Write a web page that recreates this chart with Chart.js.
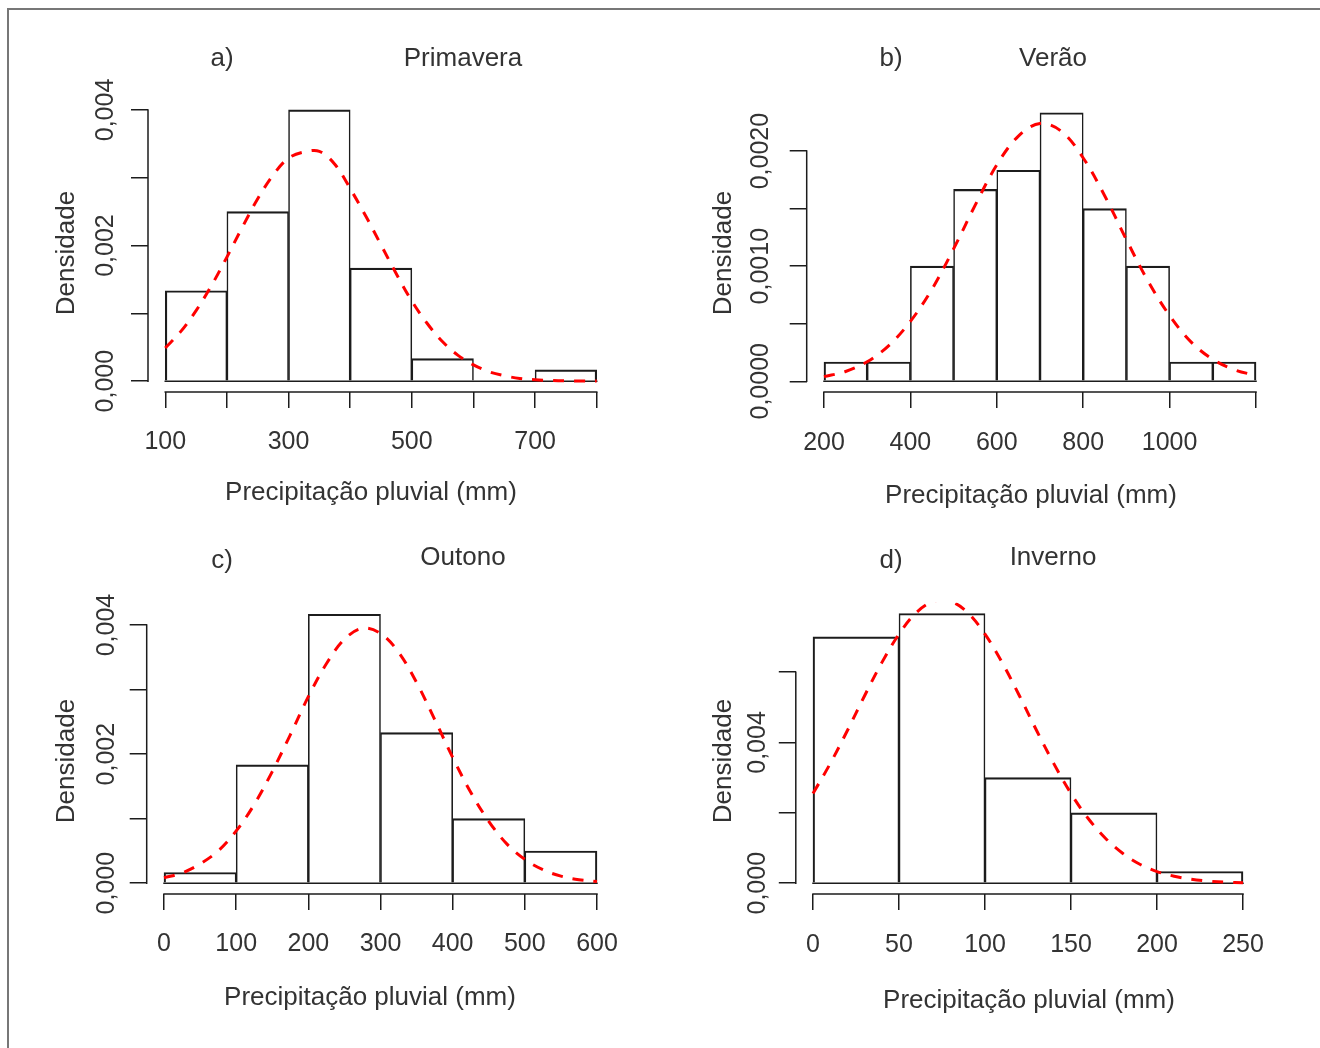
<!DOCTYPE html>
<html>
<head>
<meta charset="utf-8">
<title>Precipitação pluvial sazonal</title>
<script src="https://cdn.jsdelivr.net/npm/chart.js@4.4.1/dist/chart.umd.min.js"></script>
<style>
  html, body { margin: 0; padding: 0; background: #ffffff; }
  #page { position: relative; width: 1320px; height: 1048px; overflow: hidden; background: #ffffff; }
  #frame { position: absolute; left: 7px; top: 8px; width: 1400px; height: 1100px;
           border-top: 2px solid #777777; border-left: 2px solid #777777; }
  canvas { position: absolute; }
</style>
</head>
<body>
<div id="page">
  <div id="frame"></div>
  <canvas id="cA" width="660" height="524" style="left:0px;top:0px"></canvas>
  <canvas id="cB" width="660" height="524" style="left:660px;top:0px"></canvas>
  <canvas id="cC" width="660" height="524" style="left:0px;top:524px"></canvas>
  <canvas id="cD" width="660" height="524" style="left:660px;top:524px"></canvas>
</div>
<script>
// ---- a) Primavera ----
const springBreaks  = [100, 200, 300, 400, 500, 600, 700, 800];
const springDensity = [0.001333, 0.0025, 0.004, 0.001667, 0.000333, 0, 0.000167];
const springCurveX  = [100, 125, 150, 175, 200, 225, 250, 275, 300, 325, 350, 375, 400, 425, 450,
                       475, 500, 525, 550, 575, 600, 625, 650, 675, 700, 725, 750, 775, 800];
const springCurveY  = [0.00049, 0.00073, 0.00104, 0.00141, 0.00183, 0.00227, 0.00269, 0.00304, 0.00329,
                       0.00338, 0.00339, 0.00320, 0.00284, 0.00244, 0.00201, 0.00158, 0.00118, 0.00085,
                       0.00058, 0.00038, 0.00024, 0.00014, 0.00008, 0.00004, 0.00002, 0.00001, 0.000005,
                       0.000002, 0.000001];
const springXTicks  = [100, 200, 300, 400, 500, 600, 700, 800];
const springXLabels = ['100', '', '300', '', '500', '', '700', ''];
const springYTicks  = [0, 0.001, 0.002, 0.003, 0.004];
const springYLabels = ['0,000', '', '0,002', '', '0,004'];

// ---- b) Verão ----
const summerBreaks  = [200, 300, 400, 500, 600, 700, 800, 900, 1000, 1100, 1200];
const summerDensity = [0.000167, 0.000167, 0.001, 0.001667, 0.001833, 0.002333, 0.0015, 0.001, 0.000167, 0.000167];
const summerCurveX  = [200, 250, 300, 350, 400, 450, 500, 550, 600, 650, 700, 750, 800, 850, 900,
                       950, 1000, 1050, 1100, 1150, 1200];
const summerCurveY  = [0.00004, 0.000085, 0.00017, 0.00031, 0.00052, 0.00080, 0.00115, 0.00153, 0.00188,
                       0.00213, 0.00224, 0.00217, 0.00194, 0.00161, 0.00123, 0.00087, 0.00057, 0.00034,
                       0.00019, 0.00010, 0.00005];
const summerXTicks  = [200, 400, 600, 800, 1000, 1200];
const summerXLabels = ['200', '400', '600', '800', '1000', ''];
const summerYTicks  = [0, 0.0005, 0.001, 0.0015, 0.002];
const summerYLabels = ['0,0000', '', '0,0010', '', '0,0020'];

// ---- c) Outono ----
const autumnBreaks  = [0, 100, 200, 300, 400, 500, 600];
const autumnDensity = [0.000167, 0.001833, 0.004167, 0.002333, 0.001, 0.0005];
const autumnCurveX  = [0, 25, 50, 75, 100, 125, 150, 175, 200, 225, 250, 275, 300, 325, 350, 375,
                       400, 425, 450, 475, 500, 525, 550, 575, 600];
const autumnCurveY  = [0.000085, 0.00016, 0.00030, 0.00050, 0.00081, 0.00122, 0.00173, 0.00230, 0.00289,
                       0.00340, 0.00378, 0.00395, 0.00387, 0.00358, 0.00311, 0.00254, 0.00195, 0.00141,
                       0.00096, 0.00061, 0.00037, 0.00021, 0.00011, 0.000055, 0.000026];
const autumnXTicks  = [0, 100, 200, 300, 400, 500, 600];
const autumnXLabels = ['0', '100', '200', '300', '400', '500', '600'];
const autumnYTicks  = [0, 0.001, 0.002, 0.003, 0.004];
const autumnYLabels = ['0,000', '', '0,002', '', '0,004'];

// ---- d) Inverno ----
const winterBreaks  = [0, 50, 100, 150, 200, 250];
const winterDensity = [0.007, 0.007667, 0.003, 0.002, 0.000333];
const winterCurveX  = [0, 10, 20, 30, 40, 50, 60, 70, 80, 90, 100, 110, 120, 130, 140, 150,
                       160, 170, 180, 190, 200, 210, 220, 230, 240, 250];
const winterCurveY  = [0.00255, 0.00340, 0.00434, 0.00533, 0.00627, 0.00708, 0.00769, 0.00801, 0.00801,
                       0.00769, 0.00708, 0.00627, 0.00533, 0.00434, 0.00340, 0.00255, 0.00184, 0.00128,
                       0.00085, 0.00054, 0.00033, 0.00020, 0.00011, 0.00006, 0.00003, 0.000015];
const winterXTicks  = [0, 50, 100, 150, 200, 250];
const winterXLabels = ['0', '50', '100', '150', '200', '250'];
const winterYTicks  = [0, 0.002, 0.004, 0.006];
const winterYLabels = ['0,000', '', '0,004', ''];

// ---- shared look ----
const FONT = '"Liberation Sans", Arial, Helvetica, sans-serif';
const TEXT = '#333333';
const INK = '#1c1c1c';
const CURVE = '#ff0000';
const AXIS_TITLE_X = 'Precipitação pluvial (mm)';
const AXIS_TITLE_Y = 'Densidade';
const CANVAS_W = 660, CANVAS_H = 524, Y_BOX = 20, X_BOX = 90;

// R-style axis range: data range widened by 4% on each side
function widen(lo, hi) { const pad = 0.04 * (hi - lo); return [lo - pad, hi + pad]; }
function binMids(breaks) { return breaks.slice(0, -1).map((b, i) => (b + breaks[i + 1]) / 2); }

// axis lines spanning first..last tick, histogram baseline, and all text
const rAxes = {
  id: 'rAxes',
  beforeDatasetsDraw(chart, args, o) {
    const { ctx, scales: { x, y } } = chart;
    const xt = x.ticks, yt = y.ticks;
    ctx.save();
    ctx.strokeStyle = INK;
    ctx.lineWidth = 1.5;
    ctx.lineCap = 'square';
    ctx.beginPath();
    ctx.moveTo(x.getPixelForValue(xt[0].value), x.top);
    ctx.lineTo(x.getPixelForValue(xt[xt.length - 1].value), x.top);
    ctx.moveTo(y.right, y.getPixelForValue(yt[0].value));
    ctx.lineTo(y.right, y.getPixelForValue(yt[yt.length - 1].value));
    const y0 = y.getPixelForValue(0);
    ctx.moveTo(x.getPixelForValue(o.breaks[0]), y0);
    ctx.lineTo(x.getPixelForValue(o.breaks[o.breaks.length - 1]), y0);
    ctx.stroke();
    ctx.restore();
  },
  afterDraw(chart, args, o) {
    const { ctx, scales: { y } } = chart;
    ctx.save();
    ctx.fillStyle = TEXT;
    ctx.textAlign = 'center';
    ctx.textBaseline = 'alphabetic';
    // rotated y tick labels
    ctx.font = '25px ' + FONT;
    y.ticks.forEach((t, i) => {
      const lab = o.yLabels[i];
      if (!lab) return;
      ctx.save();
      ctx.translate(o.yLabelX, y.getPixelForValue(t.value));
      ctx.rotate(-Math.PI / 2);
      ctx.fillText(lab, 0, 0);
      ctx.restore();
    });
    ctx.font = '26px ' + FONT;
    // y axis title
    ctx.save();
    ctx.translate(o.yTitle.x, o.yTitle.y);
    ctx.rotate(-Math.PI / 2);
    ctx.fillText(AXIS_TITLE_Y, 0, 0);
    ctx.restore();
    // x axis title and panel headings
    ctx.fillText(AXIS_TITLE_X, o.xTitle.x, o.xTitle.y);
    ctx.fillText(o.letter, o.letterPos.x, o.letterPos.y);
    ctx.fillText(o.name, o.namePos.x, o.namePos.y);
    ctx.restore();
  }
};

function drawPanel(p) {
  const [xmin, xmax] = widen(p.breaks[0], p.breaks[p.breaks.length - 1]);
  const [ymin, ymax] = widen(0, Math.max(...p.density));
  const nBins = p.density.length;
  const box = p.box;
  new Chart(document.getElementById(p.canvas), {
    type: 'bar',
    data: {
      datasets: [
        {
          type: 'bar',
          order: 1,
          data: binMids(p.breaks).map((m, i) => ({ x: m, y: p.density[i] })),
          backgroundColor: 'rgba(255,255,255,0)',
          borderColor: INK,
          borderWidth: (c) => ({
            top: 1.5, bottom: 0,
            left: c.dataIndex === 0 ? 1.5 : 0.9,
            right: c.dataIndex === nBins - 1 ? 1.5 : 0.9
          }),
          borderSkipped: false,
          barPercentage: 1,
          categoryPercentage: 1
        },
        {
          type: 'line',
          order: 0,
          data: p.curveX.map((v, i) => ({ x: v, y: p.curveY[i] })),
          borderColor: CURVE,
          borderWidth: 3,
          borderDash: [11, 10],
          pointRadius: 0,
          tension: 0.35,
          fill: false
        }
      ]
    },
    options: {
      responsive: false,
      animation: false,
      devicePixelRatio: 1,
      events: [],
      layout: {
        padding: {
          left: box.l - Y_BOX,
          right: CANVAS_W - box.r,
          top: box.t,
          bottom: CANVAS_H - box.b - X_BOX
        }
      },
      scales: {
        x: {
          type: 'linear',
          position: 'bottom',
          offset: false,
          min: xmin,
          max: xmax,
          afterBuildTicks: (s) => { s.ticks = p.xTicks.map((v) => ({ value: v })); },
          afterFit: (s) => { s.height = X_BOX; },
          grid: { offset: false, drawOnChartArea: false, drawTicks: true, tickLength: 16,
                  lineWidth: 1.5, color: INK, tickColor: INK, tickWidth: 1.5 },
          border: { display: false },
          ticks: {
            autoSkip: false, maxRotation: 0, minRotation: 0, padding: p.xLabelPad,
            color: TEXT, font: { family: FONT, size: 25 },
            callback: (v, i) => p.xLabels[i]
          }
        },
        y: {
          type: 'linear',
          position: 'left',
          min: ymin,
          max: ymax,
          afterBuildTicks: (s) => { s.ticks = p.yTicks.map((v) => ({ value: v })); },
          afterFit: (s) => { s.width = Y_BOX; },
          grid: { drawOnChartArea: false, drawTicks: true, tickLength: 17,
                  lineWidth: 1.5, color: INK, tickColor: INK, tickWidth: 1.5 },
          border: { display: false },
          ticks: { display: false }
        }
      },
      plugins: {
        legend: { display: false },
        title: { display: false },
        tooltip: { enabled: false },
        rAxes: {
          breaks: p.breaks,
          yLabels: p.yLabels,
          yLabelX: p.yLabelX,
          yTitle: p.yTitle,
          xTitle: p.xTitle,
          letter: p.letter, letterPos: p.letterPos,
          name: p.name, namePos: p.namePos
        }
      }
    },
    plugins: [rAxes]
  });
}

drawPanel({
  canvas: 'cA', letter: 'a)', name: 'Primavera',
  breaks: springBreaks, density: springDensity, curveX: springCurveX, curveY: springCurveY,
  xTicks: springXTicks, xLabels: springXLabels, yTicks: springYTicks, yLabels: springYLabels,
  box: { l: 148, r: 614, t: 99.1, b: 392 }, xLabelPad: 19,
  yLabelX: 113, yTitle: { x: 74, y: 253 }, xTitle: { x: 371, y: 500 },
  letterPos: { x: 222, y: 66 }, namePos: { x: 463, y: 66 }
});
drawPanel({
  canvas: 'cB', letter: 'b)', name: 'Verão',
  breaks: summerBreaks, density: summerDensity, curveX: summerCurveX, curveY: summerCurveY,
  xTicks: summerXTicks, xLabels: summerXLabels, yTicks: summerYTicks, yLabels: summerYLabels,
  box: { l: 146.7, r: 613.3, t: 102, b: 392 }, xLabelPad: 20,
  yLabelX: 108, yTitle: { x: 71, y: 253 }, xTitle: { x: 371, y: 503 },
  letterPos: { x: 231, y: 66 }, namePos: { x: 393, y: 66 }
});
drawPanel({
  canvas: 'cC', letter: 'c)', name: 'Outono',
  breaks: autumnBreaks, density: autumnDensity, curveX: autumnCurveX, curveY: autumnCurveY,
  xTicks: autumnXTicks, xLabels: autumnXLabels, yTicks: autumnYTicks, yLabels: autumnYLabels,
  box: { l: 146.7, r: 614.3, t: 79.5, b: 370 }, xLabelPad: 19,
  yLabelX: 114, yTitle: { x: 74, y: 237 }, xTitle: { x: 370, y: 481 },
  letterPos: { x: 222, y: 44 }, namePos: { x: 463, y: 41 }
});
drawPanel({
  canvas: 'cD', letter: 'd)', name: 'Inverno',
  breaks: winterBreaks, density: winterDensity, curveX: winterCurveX, curveY: winterCurveY,
  xTicks: winterXTicks, xLabels: winterXLabels, yTicks: winterYTicks, yLabels: winterYLabels,
  box: { l: 135.8, r: 600.2, t: 78.7, b: 370 }, xLabelPad: 20,
  yLabelX: 105, yTitle: { x: 71, y: 237 }, xTitle: { x: 369, y: 484 },
  letterPos: { x: 231, y: 44 }, namePos: { x: 393, y: 41 }
});
</script>
</body>
</html>
